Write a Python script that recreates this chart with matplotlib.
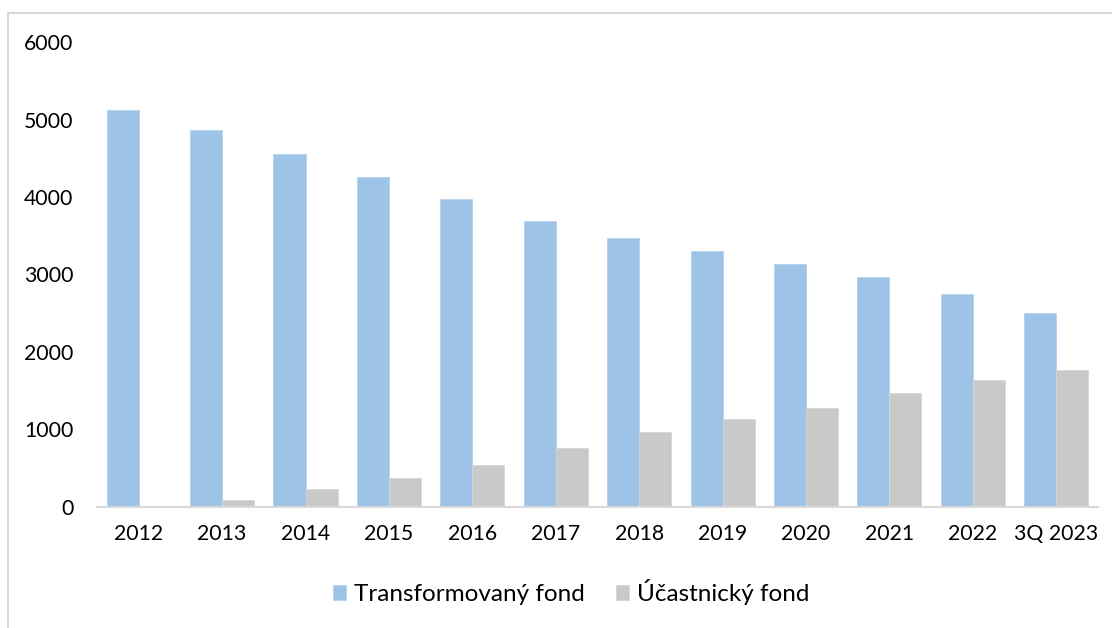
import matplotlib.pyplot as plt
import numpy as np

# data
kategorie = ["2012", "2013", "2014", "2015", "2016", "2017",
             "2018", "2019", "2020", "2021", "2022", "3Q 2023"]
transformovany = [5120, 4870, 4560, 4260, 3975, 3690,
                  3470, 3300, 3135, 2965, 2750, 2500]
ucastnicky = [5, 90, 230, 375, 540, 760,
              970, 1135, 1280, 1467, 1635, 1764]

plt.rcParams['font.family'] = ['Lato', 'DejaVu Sans']

fig = plt.figure(figsize=(11.12, 6.28), dpi=100)
ax = fig.add_axes([0.0872, 0.1927, 0.9002, 0.7404])

x = np.arange(len(kategorie))
w = 0.384
ax.bar(x - w/2, transformovany, w, color="#9DC3E6", edgecolor="#B4D2EE",
       linewidth=0.6, label="Transformovaný fond")
ax.bar(x + w/2, ucastnicky, w, color="#C9C9C9", edgecolor="#D6D6D6",
       linewidth=0.6, label="Účastnický fond")

ax.set_xlim(-0.5, len(kategorie) - 0.5)
ax.set_ylim(0, 6000)
ax.set_yticks(range(0, 6001, 1000))
ax.set_xticks(x)
ax.set_xticklabels(kategorie)
ax.tick_params(axis='both', length=0, labelsize=15.3, colors="#000000")
ax.tick_params(axis='y', pad=17)
ax.tick_params(axis='x', pad=12)

for s in ["top", "right", "left"]:
    ax.spines[s].set_visible(False)
ax.spines["bottom"].set_color("#D9D9D9")
ax.spines["bottom"].set_linewidth(1.5)

leg = fig.legend(loc="center", bbox_to_anchor=(571/1112, 1 - 592/628), ncol=2,
                 frameon=False, fontsize=17.5, handlelength=0.55,
                 handleheight=0.55, handletextpad=0.3, columnspacing=1.3)

# frame around the chart (left and top only visible)
fig.add_artist(plt.Line2D([8/1112, 8/1112], [0, 1 - 13/628],
                          color="#D9D9D9", lw=1.5))
fig.add_artist(plt.Line2D([8/1112, 1], [1 - 13/628, 1 - 13/628],
                          color="#D9D9D9", lw=1.5))

fig.savefig("out.png", dpi=100)
